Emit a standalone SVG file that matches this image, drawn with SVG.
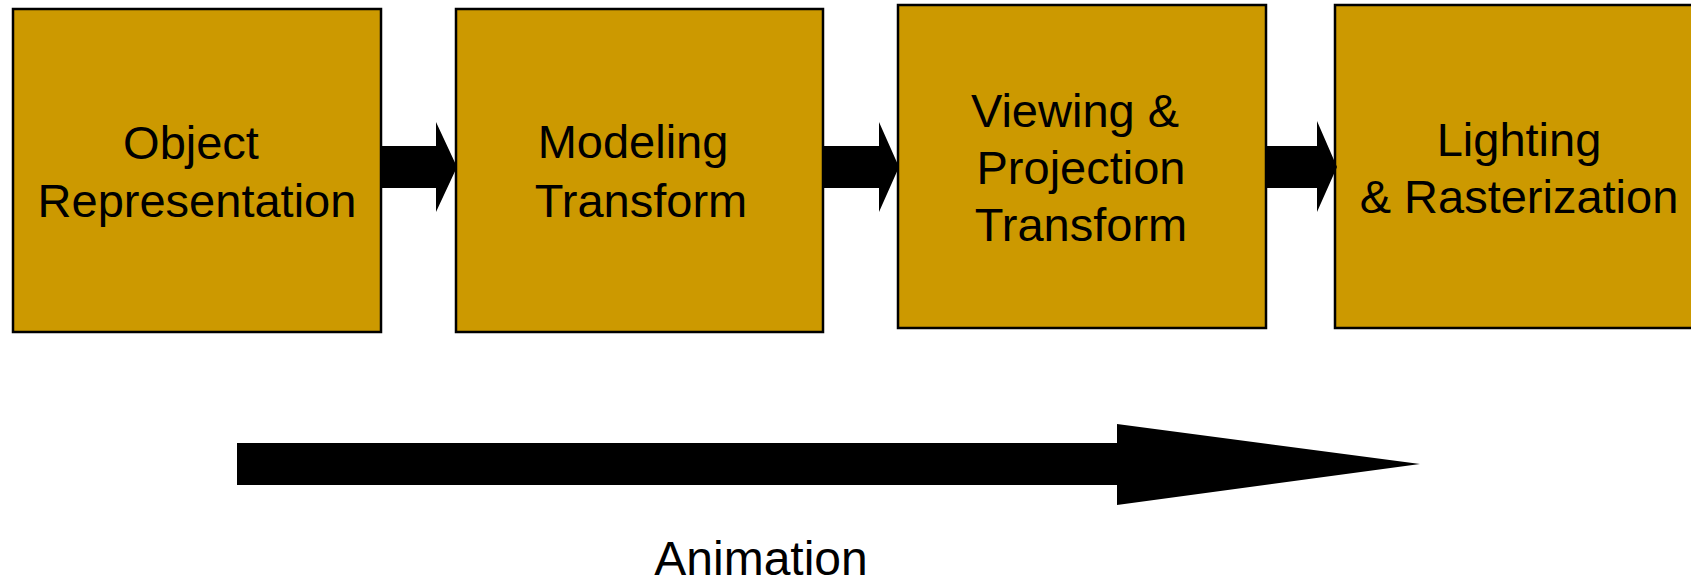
<svg xmlns="http://www.w3.org/2000/svg" width="1691" height="582" viewBox="0 0 1691 582">
<style>
.box{fill:#CC9900;stroke:#000;stroke-width:2.5}
.lbl{font-family:"Liberation Sans",Arial,sans-serif;font-size:47px;fill:#000;text-anchor:middle}
.arr{fill:#000;stroke:none}
</style>
<rect width="1691" height="582" fill="#fff"/>
<g id="node-object">
<rect class="box" x="13" y="9" width="368" height="323"/>
<text class="lbl" x="191" y="159">Object</text>
<text class="lbl" x="197" y="217">Representation</text>
</g>
<g id="node-modeling">
<rect class="box" x="456" y="9" width="367" height="323"/>
<text class="lbl" x="633" y="158">Modeling</text>
<text class="lbl" x="641" y="217">Transform</text>
</g>
<g id="node-viewing">
<rect class="box" x="898" y="5" width="368" height="323"/>
<text class="lbl" x="1075" y="127">Viewing &amp;</text>
<text class="lbl" x="1081" y="184">Projection</text>
<text class="lbl" x="1081" y="241">Transform</text>
</g>
<g id="node-lighting">
<rect class="box" x="1335" y="5" width="368" height="323"/>
<text class="lbl" x="1519" y="156">Lighting</text>
<text class="lbl" x="1519" y="213">&amp; Rasterization</text>
</g>
<g id="connectors">
<polygon class="arr" points="381,146 436,146 436,122 457,167 436,212 436,188 381,188"/>
<polygon class="arr" points="823,146 879,146 879,122 899,167 879,212 879,188 823,188"/>
<polygon class="arr" points="1266,146 1317,146 1317,121 1337,167 1317,212 1317,188 1266,188"/>
<polygon class="arr" points="237,443 1117,443 1117,424 1420,464 1117,505 1117,485 237,485"/>
</g>
<g id="label-animation">
<text class="lbl" x="761" y="575" style="font-size:48px">Animation</text>
</g>
</svg>
